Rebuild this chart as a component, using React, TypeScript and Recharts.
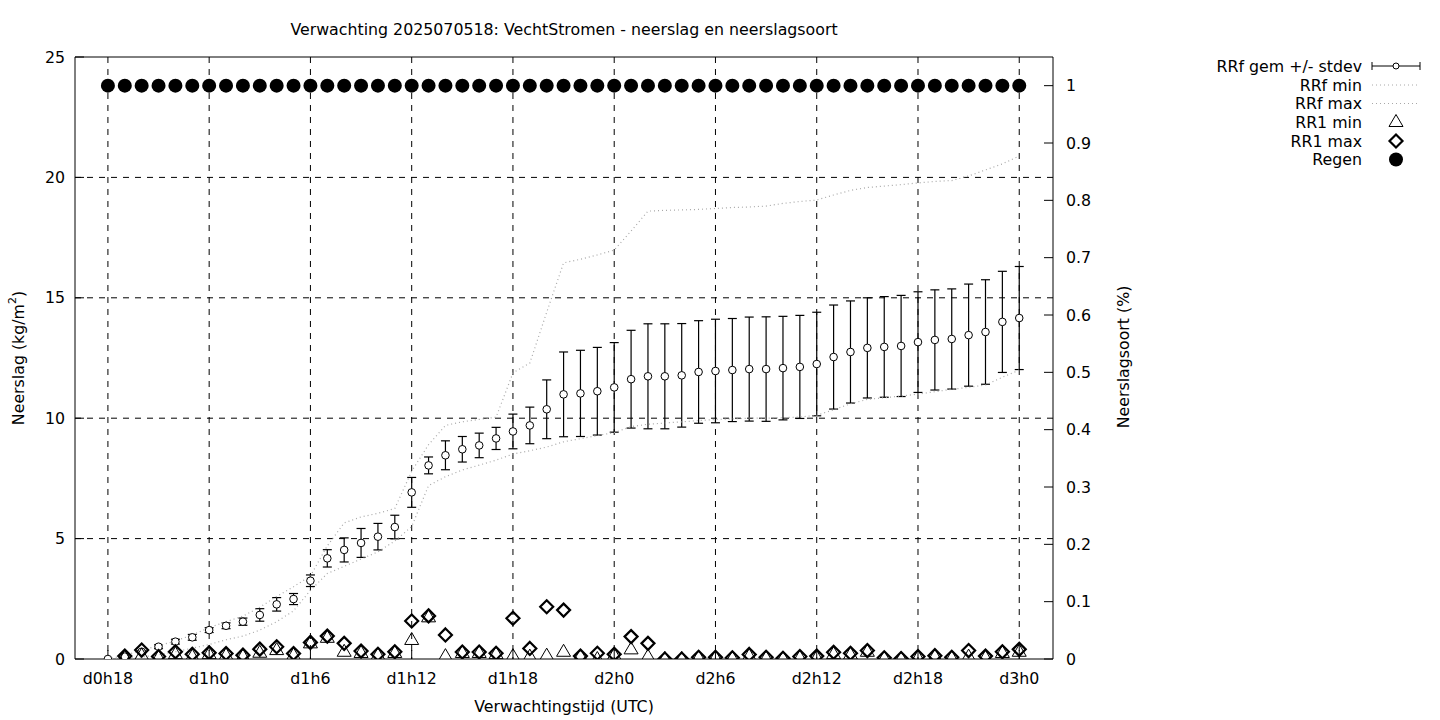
import React from "react"
import {
  ComposedChart,
  Line,
  XAxis,
  YAxis,
  CartesianGrid,
  ErrorBar,
  ReferenceArea,
} from "recharts"

// forecast hours since d0h18
const HOURS = [
  0, 1, 2, 3, 4, 5, 6, 7, 8, 9, 10, 11, 12, 13, 14, 15, 16, 17, 18, 19, 20, 21, 22, 23, 24, 25, 26,
  27, 28, 29, 30, 31, 32, 33, 34, 35, 36, 37, 38, 39, 40, 41, 42, 43, 44, 45, 46, 47, 48, 49, 50, 51,
  52, 53, 54,
]
const X_TICKS = [0, 6, 12, 18, 24, 30, 36, 42, 48, 54]
const X_TICK_LABELS = ["d0h18", "d1h0", "d1h6", "d1h12", "d1h18", "d2h0", "d2h6", "d2h12", "d2h18", "d3h0"]
const Y_TICKS = [0, 5, 10, 15, 20, 25]
const Y2_TICKS = [0, 0.1, 0.2, 0.3, 0.4, 0.5, 0.6, 0.7, 0.8, 0.9, 1]

const RRF_MEAN = [
  0, 0.1, 0.3, 0.51, 0.72, 0.9, 1.2, 1.38, 1.55, 1.83, 2.27, 2.49, 3.25, 4.18, 4.53, 4.82, 5.08, 5.48,
  6.92, 8.04, 8.46, 8.71, 8.87, 9.16, 9.45, 9.7, 10.37, 10.99, 11.03, 11.12, 11.28, 11.62, 11.74, 11.74,
  11.78, 11.92, 11.96, 12.0, 12.04, 12.04, 12.08, 12.13, 12.25, 12.54, 12.75, 12.92, 12.96, 13.0, 13.16,
  13.25, 13.29, 13.45, 13.58, 14.0, 14.16,
]
const RRF_STDEV = [
  0, 0.03, 0.05, 0.08, 0.1, 0.12, 0.1, 0.12, 0.15, 0.26, 0.28, 0.23, 0.24, 0.36, 0.5, 0.6, 0.55, 0.49,
  0.62, 0.35, 0.6, 0.53, 0.51, 0.46, 0.72, 0.76, 1.22, 1.76, 1.79, 1.82, 1.86, 2.03, 2.18, 2.18, 2.15,
  2.13, 2.15, 2.14, 2.16, 2.17, 2.15, 2.14, 2.15, 2.16, 2.12, 2.08, 2.09, 2.1, 2.09, 2.08, 2.08, 2.12,
  2.17, 2.1, 2.14,
]
const RRF_MIN = [
  0, 0.02, 0.08, 0.18, 0.3, 0.45, 0.6, 0.8, 0.95, 1.2, 1.55, 2.0, 2.85, 3.55, 3.85, 4.15, 4.45, 4.9,
  5.5, 7.2, 7.57, 7.85, 8.05, 8.26, 8.51, 8.65, 8.8, 9.02, 9.15, 9.28, 9.4, 9.65, 9.75, 9.8, 9.85, 9.9,
  9.95, 9.97, 10.0, 10.0, 10.02, 10.05, 10.12, 10.35, 10.6, 10.78, 10.85, 10.92, 11.0, 11.1, 11.2,
  11.28, 11.38, 11.7, 12.0,
]
const RRF_MAX = [
  0, 0.15, 0.37, 0.55, 0.75, 1.0, 1.3, 1.55, 1.78, 2.15, 2.6, 3.0, 3.45, 4.7, 5.65, 5.9, 6.05, 6.25,
  7.8, 8.9, 9.7, 9.85, 9.95, 10.04, 11.88, 12.29, 14.4, 16.45, 16.6, 16.78, 16.98, 17.77, 18.6, 18.63,
  18.65, 18.67, 18.71, 18.75, 18.77, 18.81, 18.92, 19.0, 19.06, 19.27, 19.46, 19.58, 19.64, 19.7,
  19.77, 19.83, 19.87, 20.06, 20.31, 20.56, 20.89,
]
const RR1_MIN = [
  null, 0.05, 0.15, 0.05, 0.2, 0.1, 0.2, 0.15, 0.1, 0.26, 0.37, 0.15, 0.65, 0.88, 0.3, 0.25, 0.15, 0.25,
  0.79, 1.73, 0.12, 0.25, 0.25, 0.2, 0.12, 0.1, 0.14, 0.3, 0.1, 0.0, 0.15, 0.4, 0.1, 0.0, 0.0, 0.05,
  0.05, 0.02, 0.12, 0.03, 0.01, 0.05, 0.05, 0.2, 0.18, 0.3, 0.02, 0.0, 0.05, 0.1, 0.03, 0.1, 0.05, 0.25,
  0.3,
]
const RR1_MAX = [
  null, 0.12, 0.37, 0.1, 0.3, 0.2, 0.26, 0.23, 0.16, 0.41, 0.51, 0.23, 0.69, 0.95, 0.65, 0.33, 0.2, 0.3,
  1.58, 1.79, 1.0, 0.29, 0.29, 0.24, 1.69, 0.44, 2.17, 2.03, 0.12, 0.24, 0.2, 0.93, 0.65, 0.0, 0.0,
  0.07, 0.07, 0.05, 0.19, 0.07, 0.03, 0.1, 0.12, 0.28, 0.24, 0.35, 0.05, 0.02, 0.1, 0.14, 0.07, 0.35,
  0.12, 0.3, 0.4,
]
const REGEN = [
  1, 1, 1, 1, 1, 1, 1, 1, 1, 1, 1, 1, 1, 1, 1, 1, 1, 1, 1, 1, 1, 1, 1, 1, 1, 1, 1, 1, 1, 1, 1, 1, 1,
  1, 1, 1, 1, 1, 1, 1, 1, 1, 1, 1, 1, 1, 1, 1, 1, 1, 1, 1, 1, 1, 1,
]

const FONT = "'DejaVu Sans', sans-serif"
const FS = 15.8
const DOTTED = "#a8a8a8"

const data = HOURS.map((h, i) => ({
  h,
  mean: RRF_MEAN[i],
  std: RRF_STDEV[i],
  min: RRF_MIN[i],
  max: RRF_MAX[i],
  rr1min: RR1_MIN[i],
  rr1max: RR1_MAX[i],
  regen: REGEN[i],
}))

const OpenCircle = (p: any) =>
  p.cy == null ? (
    <g key={p.key} />
  ) : (
    <circle key={p.key} cx={p.cx} cy={p.cy} r={3.8} fill="#fff" stroke="#000" strokeWidth={1} />
  )

const Triangle = (p: any) =>
  p.cy == null ? (
    <g key={p.key} />
  ) : (
    <path
      key={p.key}
      d={`M${p.cx},${p.cy - 7.5} L${p.cx + 7},${p.cy + 4.5} L${p.cx - 7},${p.cy + 4.5} Z`}
      fill="none"
      stroke="#000"
      strokeWidth={1}
    />
  )

const Diamond = (p: any) =>
  p.cy == null ? (
    <g key={p.key} />
  ) : (
    <path
      key={p.key}
      d={`M${p.cx},${p.cy - 6.5} L${p.cx + 6.5},${p.cy} L${p.cx},${p.cy + 6.5} L${p.cx - 6.5},${p.cy} Z`}
      fill="none"
      stroke="#000"
      strokeWidth={2.2}
    />
  )

const FilledDot = (p: any) =>
  p.cy == null ? <g key={p.key} /> : <circle key={p.key} cx={p.cx} cy={p.cy} r={7} fill="#000" />

const LEGEND = ["RRf gem +/- stdev", "RRf min", "RRf max", "RR1 min", "RR1 max", "Regen"]

function LegendBox() {
  const x = 1396
  const rows = [66, 85, 103.5, 122, 141, 159.5]
  return (
    <svg
      width={1440}
      height={720}
      style={{ position: "absolute", left: 0, top: 0, pointerEvents: "none" }}
      fontFamily={FONT}
      fontSize={FS}
    >
      <text x={564} y={29} textAnchor="middle" dominantBaseline="central">
        Verwachting 2025070518: VechtStromen - neerslag en neerslagsoort
      </text>
      <text x={564} y={706} textAnchor="middle" dominantBaseline="central">
        Verwachtingstijd (UTC)
      </text>
      <text transform="translate(18,358) rotate(-90)" textAnchor="middle" dominantBaseline="central">
        <tspan>Neerslag (kg/m</tspan>
        <tspan dy={-6} fontSize={11}>
          2
        </tspan>
        <tspan dy={6}>)</tspan>
      </text>
      <text transform="translate(1123,357) rotate(-90)" textAnchor="middle" dominantBaseline="central">
        Neerslagsoort (%)
      </text>
      {LEGEND.map((t, i) => (
        <text key={t} x={1362} y={rows[i]} textAnchor="end" dominantBaseline="central">
          {t}
        </text>
      ))}
      <g stroke="#000" strokeWidth={1}>
        <line x1={1372} y1={rows[0]} x2={1420} y2={rows[0]} />
        <line x1={1372} y1={rows[0] - 4} x2={1372} y2={rows[0] + 4} />
        <line x1={1420} y1={rows[0] - 4} x2={1420} y2={rows[0] + 4} />
        <circle cx={x} cy={rows[0]} r={3} fill="#fff" />
      </g>
      <line x1={1372} y1={rows[1]} x2={1420} y2={rows[1]} stroke={DOTTED} strokeDasharray="1 3" />
      <line x1={1372} y1={rows[2]} x2={1420} y2={rows[2]} stroke={DOTTED} strokeDasharray="1 3" />
      <path
        d={`M${x},${rows[3] - 7.5} L${x + 7},${rows[3] + 4.5} L${x - 7},${rows[3] + 4.5} Z`}
        fill="none"
        stroke="#000"
      />
      <path
        d={`M${x},${rows[4] - 6.5} L${x + 6.5},${rows[4]} L${x},${rows[4] + 6.5} L${x - 6.5},${rows[4]} Z`}
        fill="none"
        stroke="#000"
        strokeWidth={2.2}
      />
      <circle cx={x} cy={rows[5]} r={7} fill="#000" />
    </svg>
  )
}

export default function App() {
  const tickStyle = { fill: "#000", fontSize: FS, fontFamily: FONT }
  return (
    <div style={{ position: "absolute", left: 0, top: 0, width: 1440, height: 720, background: "#fff" }}>
      <ComposedChart
        width={1440}
        height={720}
        data={data}
        margin={{ top: 57, right: 327, left: 15, bottom: 31 }}
        style={{ fontFamily: FONT }}
      >
        <CartesianGrid
          yAxisId="left"
          stroke="#000"
          strokeDasharray="6 6"
          horizontalValues={[5, 10, 15, 20]}
          verticalValues={X_TICKS}
        />
        <XAxis
          dataKey="h"
          type="number"
          domain={[-1.95, 56]}
          allowDataOverflow
          ticks={X_TICKS}
          tickFormatter={(v: number) => X_TICK_LABELS[X_TICKS.indexOf(v)] ?? ""}
          height={30}
          tick={tickStyle}
          tickSize={-9}
          tickMargin={23}
          axisLine={false}
          tickLine={{ stroke: "#000" }}
        />
        <YAxis
          yAxisId="left"
          type="number"
          domain={[0, 25]}
          allowDataOverflow
          ticks={Y_TICKS}
          width={60}
          tick={tickStyle}
          tickSize={-9}
          tickMargin={19}
          axisLine={false}
          tickLine={{ stroke: "#000" }}
        />
        <YAxis
          yAxisId="right"
          orientation="right"
          type="number"
          domain={[0, 1.05]}
          allowDataOverflow
          ticks={Y2_TICKS}
          tickFormatter={(v: number) => String(Math.round(v * 10) / 10)}
          width={60}
          tick={{ ...tickStyle, textAnchor: "start" }}
          tickSize={-9}
          tickMargin={22}
          axisLine={false}
          tickLine={{ stroke: "#000" }}
        />
        <ReferenceArea
          yAxisId="left"
          x1={-1.95}
          x2={56}
          y1={0}
          y2={25}
          fill="none"
          stroke="#000"
          strokeWidth={1}
          ifOverflow="visible"
        />
        <Line
          yAxisId="left"
          dataKey="mean"
          stroke="none"
          dot={OpenCircle}
          activeDot={false}
          isAnimationActive={false}
        >
          <ErrorBar dataKey="std" direction="y" width={4.5} stroke="#000" strokeWidth={1.2} />
        </Line>
        <Line
          yAxisId="left"
          dataKey="min"
          type="linear"
          stroke={DOTTED}
          strokeWidth={1.2}
          strokeDasharray="1 3"
          dot={false}
          activeDot={false}
          isAnimationActive={false}
        />
        <Line
          yAxisId="left"
          dataKey="max"
          type="linear"
          stroke={DOTTED}
          strokeWidth={1.2}
          strokeDasharray="1 3"
          dot={false}
          activeDot={false}
          isAnimationActive={false}
        />
        <Line
          yAxisId="left"
          dataKey="rr1min"
          stroke="none"
          dot={Triangle}
          activeDot={false}
          isAnimationActive={false}
        />
        <Line
          yAxisId="left"
          dataKey="rr1max"
          stroke="none"
          dot={Diamond}
          activeDot={false}
          isAnimationActive={false}
        />
        <Line
          yAxisId="right"
          dataKey="regen"
          stroke="none"
          dot={FilledDot}
          activeDot={false}
          isAnimationActive={false}
        />
      </ComposedChart>
      <LegendBox />
    </div>
  )
}
